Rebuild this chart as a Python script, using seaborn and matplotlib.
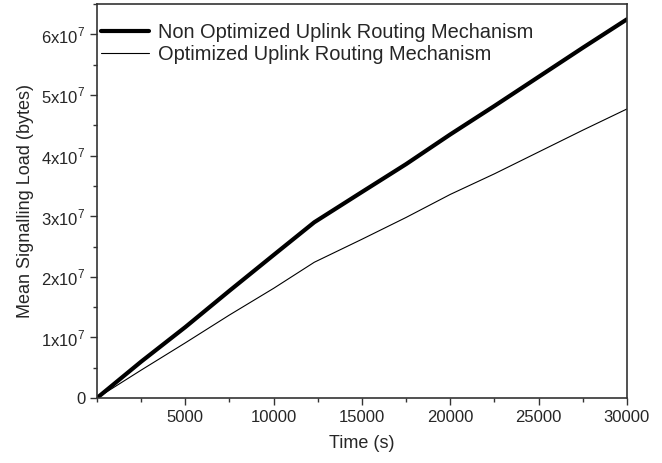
import pandas as pd
import matplotlib.pyplot as plt
import matplotlib.ticker as mticker
import seaborn as sns

# Values
time_s = [0, 2500, 5000, 7500, 10000, 12300, 15000, 17500, 20000, 22500, 25000, 27500, 30000]
non_optimized = [0, 0.60e7, 1.17e7, 1.77e7, 2.36e7, 2.90e7, 3.40e7, 3.86e7, 4.35e7, 4.82e7, 5.30e7, 5.78e7, 6.25e7]
optimized = [0, 0.46e7, 0.91e7, 1.37e7, 1.81e7, 2.24e7, 2.62e7, 2.98e7, 3.36e7, 3.70e7, 4.06e7, 4.42e7, 4.77e7]
series_names = ['Non Optimized Uplink Routing Mechanism', 'Optimized Uplink Routing Mechanism']

df = pd.DataFrame({
    'Time (s)': time_s * 2,
    'load': non_optimized + optimized,
    'series': [series_names[0]] * len(time_s) + [series_names[1]] * len(time_s),
})

sns.set_style('ticks')
plt.rcParams['font.family'] = ['Liberation Sans', 'DejaVu Sans']
plt.rcParams['mathtext.fontset'] = 'custom'
plt.rcParams['mathtext.rm'] = 'Liberation Sans'

fig = plt.figure(figsize=(6.62, 4.63), dpi=100)
ax = fig.add_axes([0.1465, 0.1404, 0.8005, 0.8506])

sns.lineplot(data=df, x='Time (s)', y='load', hue='series', size='series',
             sizes={series_names[0]: 3.0, series_names[1]: 0.8},
             palette={series_names[0]: 'black', series_names[1]: 'black'},
             ax=ax, estimator=None)

ax.set_xlim(0, 30000)
ax.set_ylim(0, 6.5e7)
ax.set_xticks([5000, 10000, 15000, 20000, 25000, 30000])
ax.xaxis.set_minor_locator(mticker.MultipleLocator(2500))
ax.set_yticks([0, 1e7, 2e7, 3e7, 4e7, 5e7, 6e7])
ax.yaxis.set_minor_locator(mticker.MultipleLocator(0.5e7))


def fmt_y(v, pos):
    if v == 0:
        return '0'
    return r'%dx10$^{7}$' % round(v / 1e7)


ax.yaxis.set_major_formatter(mticker.FuncFormatter(fmt_y))
ax.tick_params(axis='both', which='major', labelsize=12, length=5, width=1, color='#333333', direction='out')
ax.tick_params(axis='both', which='minor', length=3, width=1, color='#333333', direction='out')
for sp in ax.spines.values():
    sp.set_color('#333333')
    sp.set_linewidth(1.2)

ax.set_xlabel('Time (s)', fontsize=13, labelpad=7)
ax.set_ylabel('Mean Signalling Load (bytes)', fontsize=13, labelpad=5)

handles, labels = ax.get_legend_handles_labels()
ax.legend(handles, labels, loc='upper left', frameon=False, fontsize=14.4,
          handlelength=2.4, handletextpad=0.45, labelspacing=0.12,
          borderpad=0.1, borderaxespad=0.1, bbox_to_anchor=(0.0, 0.962))

fig.savefig('out.png', dpi=100)
plt.close(fig)
